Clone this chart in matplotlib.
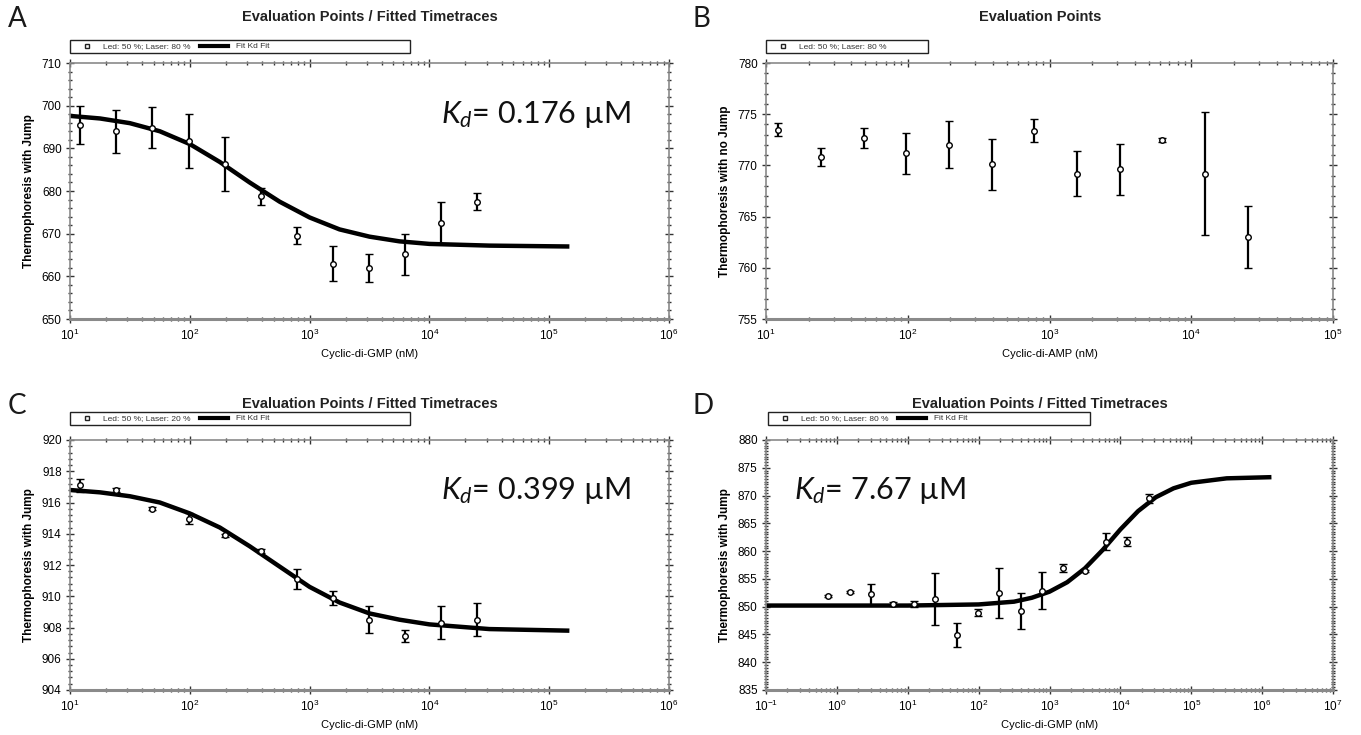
import matplotlib
matplotlib.use("Agg")
import matplotlib.pyplot as plt
from matplotlib.lines import Line2D
from matplotlib.patches import Rectangle
from matplotlib.ticker import LogLocator, MultipleLocator, NullFormatter

plt.rcParams['font.family'] = ['Liberation Sans', 'DejaVu Sans']
plt.rcParams['mathtext.fontset'] = 'custom'
plt.rcParams['mathtext.rm'] = 'Lato'
plt.rcParams['mathtext.it'] = 'Lato:italic'

# dilution series (nM)
conc = [12.2, 24.4, 48.8, 97.7, 195, 391, 781, 1563, 3125, 6250, 12500, 25000]
conc_d = [0.76, 1.53, 3.05, 6.1, 12.2, 24.4, 48.8, 97.7, 195, 391, 781, 1563,
          3125, 6250, 12500, 25000]

# A: cyclic-di-GMP, jump
a_y = [695.5, 694.0, 694.8, 691.8, 686.3, 678.8, 669.5, 663.0, 662.0, 665.2, 672.5, 677.5]
a_err = [4.5, 5.0, 4.8, 6.3, 6.3, 2.0, 2.0, 4.0, 3.3, 4.8, 5.0, 2.0]
a_fit_x = [10, 17.8, 31.6, 56.2, 100, 178, 316, 562, 1000, 1778, 3162, 5623, 10000, 31623, 141254]
a_fit_y = [697.6, 697.0, 695.9, 694.0, 691.0, 686.8, 682.0, 677.5, 673.8, 671.0, 669.3,
           668.2, 667.6, 667.2, 667.0]

# B: cyclic-di-AMP, no jump
b_y = [773.5, 770.8, 772.7, 771.2, 772.0, 770.1, 773.4, 769.2, 769.6, 772.5, 769.2, 763.0]
b_err = [0.6, 0.9, 1.0, 2.0, 2.3, 2.5, 1.1, 2.2, 2.5, 0.2, 6.0, 3.0]

# C: cyclic-di-GMP, laser 20 %
c_y = [917.1, 916.8, 915.6, 914.95, 913.9, 912.9, 911.1, 909.9, 908.5, 907.45, 908.3, 908.5]
c_err = [0.4, 0.1, 0.1, 0.35, 0.1, 0.15, 0.65, 0.45, 0.85, 0.4, 1.05, 1.05]
c_fit_x = a_fit_x
c_fit_y = [916.8, 916.65, 916.4, 916.0, 915.3, 914.4, 913.2, 911.9, 910.6, 909.6, 908.9,
           908.5, 908.2, 907.9, 907.8]

# D: cyclic-di-GMP, laser 80 %
d_y = [851.9, 852.7, 852.2, 850.5, 850.5, 851.4, 844.9, 848.9, 852.5, 849.2, 852.9,
       857.0, 856.4, 861.7, 861.7, 869.5]
d_err = [0.15, 0.15, 1.9, 0.4, 0.6, 4.7, 2.1, 0.6, 4.5, 3.3, 3.4, 0.7, 0.15, 1.5, 0.8, 0.8]
d_fit_x = [0.1, 1, 10, 100, 316, 562, 1000, 1778, 3162, 5623, 10000, 17783, 31623,
           56234, 100000, 316228, 1258925]
d_fit_y = [850.2, 850.2, 850.2, 850.4, 850.9, 851.6, 852.7, 854.4, 856.9, 860.2, 863.9,
           867.2, 869.7, 871.3, 872.3, 873.1, 873.3]

W, H = 1361, 735
fig = plt.figure(figsize=(W / 100, H / 100), dpi=100)


def box(l, t, r, b):
    return [l / W, 1 - b / H, (r - l) / W, (b - t) / H]


def fx(px):
    return px / W


def fy(py):
    return 1 - py / H


def style(ax, xlim, ylim, ystep, yminor, xlabel, ylabel):
    ax.set_xscale('log')
    ax.set_xlim(*xlim)
    ax.set_ylim(*ylim)
    ax.xaxis.set_major_locator(LogLocator(base=10, numticks=20))
    ax.xaxis.set_minor_locator(LogLocator(base=10, subs=range(2, 10), numticks=100))
    ax.xaxis.set_minor_formatter(NullFormatter())
    ax.yaxis.set_major_locator(MultipleLocator(ystep))
    ax.yaxis.set_minor_locator(MultipleLocator(yminor))
    for s in ax.spines.values():
        s.set_color('#8a8a8a')
        s.set_linewidth(1.2)
    ax.spines['bottom'].set_linewidth(2.2)
    ax.tick_params(which='both', direction='inout', top=True, right=True,
                   color='#333333', labelsize=8.5, pad=3)
    ax.tick_params(which='major', length=6, width=1)
    ax.tick_params(which='minor', length=3, width=1)
    ax.set_xlabel(xlabel, fontsize=8, labelpad=5)
    ax.set_ylabel(ylabel, fontsize=8.5, fontweight='bold', labelpad=5)


def points(ax, x, y, err):
    ax.errorbar(x, y, yerr=err, fmt='o', ms=4, mfc='white', mec='black', mew=1,
                ecolor='black', elinewidth=1.6, capsize=3, capthick=1.4, zorder=3)


def legend(text, fit, x0, x1, yc):
    # hand-built legend strip like the instrument software draws it
    h = 13
    fig.patches.append(Rectangle((fx(x0), fy(yc + h / 2)), (x1 - x0) / W, h / H,
                                 transform=fig.transFigure, fill=False,
                                 edgecolor='#222222', lw=1.0))
    fig.lines.append(Line2D([fx(x0 + 17)], [fy(yc)], marker='s', ls='none', ms=3.5,
                            mfc='white', mec='#222222', transform=fig.transFigure))
    fig.text(fx(x0 + 33), fy(yc + 2.5), text, fontsize=6, color='#333333',
             ha='left', va='baseline')
    if fit:
        fig.lines.append(Line2D([fx(x0 + 130), fx(x0 + 158)], [fy(yc), fy(yc)],
                                color='black', lw=3, transform=fig.transFigure))
        fig.text(fx(x0 + 166), fy(yc + 2.5), 'Fit Kd Fit', fontsize=6, color='#333333',
                 ha='left', va='baseline')


def heading(letter, title, lx, tx, ty):
    fig.text(fx(lx), fy(ty + 2), letter, fontsize=20, family='Lato',
             va='center', ha='left', color='#1a1a1a')
    fig.text(fx(tx), fy(ty), title, fontsize=10.5, fontweight='bold',
             ha='center', va='center', color='#222222')


def kd(ax, x, text):
    ax.text(x, 0.80, text, transform=ax.transAxes, fontsize=22, family='Lato',
            va='center', color='#111111')


# panel A
axA = fig.add_axes(box(70, 63, 669, 319))
style(axA, (10, 1e6), (650, 710), 10, 2, 'Cyclic-di-GMP (nM)', 'Thermophoresis with Jump')
axA.plot(a_fit_x, a_fit_y, color='black', lw=3.2, solid_joinstyle='round', zorder=2)
points(axA, conc, a_y, a_err)
kd(axA, 0.62, '$K_d$= 0.176 \u00b5M')
heading('A', 'Evaluation Points / Fitted Timetraces', 8, 370, 17)
legend('Led: 50 %; Laser: 80 %', True, 70, 410, 46)

# panel B
axB = fig.add_axes(box(766, 63, 1333, 319))
style(axB, (10, 1e5), (755, 780), 5, 1, 'Cyclic-di-AMP (nM)', 'Thermophoresis with no Jump')
points(axB, conc, b_y, b_err)
heading('B', 'Evaluation Points', 692, 1040, 17)
legend('Led: 50 %; Laser: 80 %', False, 766, 928, 46)

# panel C
axC = fig.add_axes(box(70, 440, 669, 690))
style(axC, (10, 1e6), (904, 920), 2, 0.4, 'Cyclic-di-GMP (nM)', 'Thermophoresis with Jump')
axC.plot(c_fit_x, c_fit_y, color='black', lw=3.2, solid_joinstyle='round', zorder=2)
points(axC, conc, c_y, c_err)
kd(axC, 0.62, '$K_d$= 0.399 \u00b5M')
heading('C', 'Evaluation Points / Fitted Timetraces', 8, 370, 404)
legend('Led: 50 %; Laser: 20 %', True, 70, 410, 418)

# panel D
axD = fig.add_axes(box(766, 440, 1333, 690))
style(axD, (0.1, 1e7), (835, 880), 5, 0.5, 'Cyclic-di-GMP (nM)', 'Thermophoresis with Jump')
axD.plot(d_fit_x, d_fit_y, color='black', lw=3.2, solid_joinstyle='round', zorder=2)
points(axD, conc_d, d_y, d_err)
kd(axD, 0.05, '$K_d$= 7.67 \u00b5M')
heading('D', 'Evaluation Points / Fitted Timetraces', 692, 1040, 404)
legend('Led: 50 %; Laser: 80 %', True, 768, 1090, 418)

fig.savefig('out.png', dpi=100)
